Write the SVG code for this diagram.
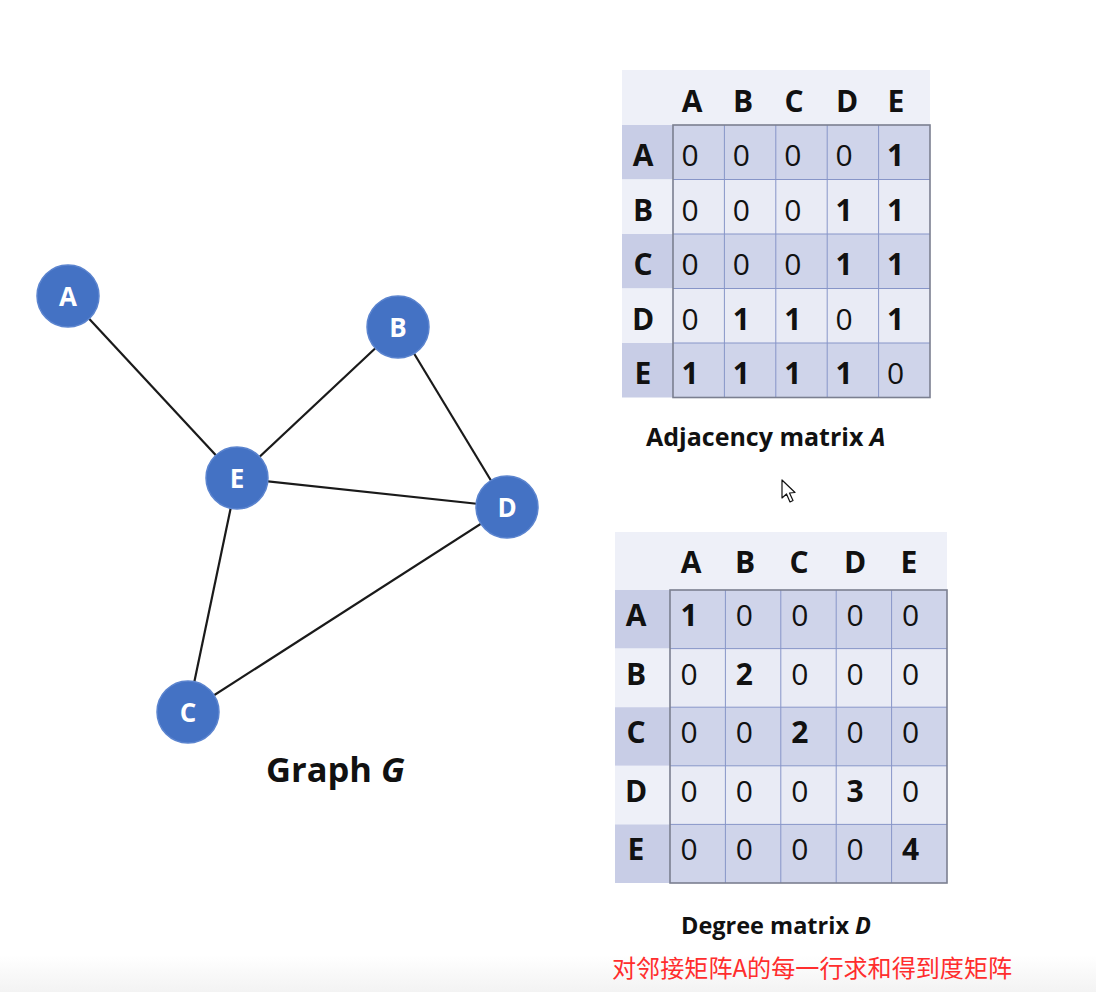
<svg xmlns="http://www.w3.org/2000/svg" width="1096" height="992" viewBox="0 0 1096 992">
<defs>
<style>
.lbl{font-family:"Open Sans","Liberation Sans",sans-serif;font-weight:bold;font-size:30px;fill:#111;text-anchor:middle}
.v0{font-family:"Open Sans","Liberation Sans",sans-serif;font-size:30px;fill:#111;text-anchor:middle}
.v1{font-family:"Open Sans","Liberation Sans",sans-serif;font-weight:bold;font-size:30px;fill:#111;text-anchor:middle}
.node circle{fill:#4472c4;stroke:#5b84cf;stroke-width:1.5}
.node text{font-family:"Open Sans","Liberation Sans",sans-serif;font-weight:bold;font-size:26px;fill:#fff;text-anchor:middle}
.edge{stroke:#1a1a1a;stroke-width:2.2;fill:none}
.cap{font-family:"Open Sans","Liberation Sans",sans-serif;font-weight:bold;fill:#111}
.dk{fill:#cfd4ea}.lt{fill:#e9ebf5}.ldk{fill:#c8cde6}.hd{fill:#eef0f8}
.grid{stroke:#8795c8;stroke-width:1;fill:none}
.frame{stroke:#7b7f90;stroke-width:1.6;fill:none}
</style>
<linearGradient id="bot" x1="0" y1="0" x2="0" y2="1">
<stop offset="0" stop-color="#ffffff"/><stop offset="1" stop-color="#f3f3f3"/>
</linearGradient>
</defs>
<rect width="1096" height="992" fill="#ffffff"/>
<rect x="0" y="955" width="1096" height="37" fill="url(#bot)"/>

<g id="connectors">
<line class="edge" x1="68" y1="296" x2="237" y2="478"/>
<line class="edge" x1="398" y1="327" x2="237" y2="478"/>
<line class="edge" x1="398" y1="327" x2="507" y2="507"/>
<line class="edge" x1="237" y1="478" x2="507" y2="507"/>
<line class="edge" x1="237" y1="478" x2="188" y2="712"/>
<line class="edge" x1="188" y1="712" x2="507" y2="507"/>
</g>

<g id="node-A" class="node"><circle cx="68" cy="296" r="31"/><text x="68" y="305.5">A</text></g>
<g id="node-B" class="node"><circle cx="398" cy="327" r="31"/><text x="398" y="336.5">B</text></g>
<g id="node-E" class="node"><circle cx="237" cy="478" r="31"/><text x="237" y="487.5">E</text></g>
<g id="node-D" class="node"><circle cx="507" cy="507" r="31"/><text x="507" y="516.5">D</text></g>
<g id="node-C" class="node"><circle cx="188" cy="712" r="31"/><text x="188" y="721.5">C</text></g>

<g id="graph-caption"><text class="cap" x="266" y="782" font-size="34.5">Graph <tspan font-style="italic">G</tspan></text></g>

<g id="adjacency-matrix">
<rect class="hd" x="622" y="70" width="308" height="55"/>
<rect class="ldk" x="622" y="125" width="51" height="54.5"/>
<rect class="hd" x="622" y="179.5" width="51" height="54.5"/>
<rect class="ldk" x="622" y="234" width="51" height="54.5"/>
<rect class="hd" x="622" y="288.5" width="51" height="54.5"/>
<rect class="ldk" x="622" y="343" width="51" height="54.5"/>
<rect class="dk" x="673" y="125" width="257" height="54.5"/>
<rect class="lt" x="673" y="179.5" width="257" height="54.5"/>
<rect class="dk" x="673" y="234" width="257" height="54.5"/>
<rect class="lt" x="673" y="288.5" width="257" height="54.5"/>
<rect class="dk" x="673" y="343" width="257" height="54.5"/>
<path class="grid" d="M724.4 125V397.5M775.8 125V397.5M827.2 125V397.5M878.6 125V397.5M673 179.5H930M673 234H930M673 288.5H930M673 343H930"/>
<rect class="frame" x="673" y="125" width="257" height="272.5"/>
<text class="lbl" x="692" y="112">A</text><text class="lbl" x="743" y="112">B</text><text class="lbl" x="794" y="112">C</text><text class="lbl" x="847" y="112">D</text><text class="lbl" x="896" y="112">E</text>
<text class="lbl" x="643" y="166">A</text><text class="lbl" x="643" y="220.5">B</text><text class="lbl" x="643" y="275">C</text><text class="lbl" x="643" y="329.5">D</text><text class="lbl" x="643" y="384">E</text>
<text class="v0" x="690" y="166">0</text><text class="v0" x="741.4" y="166">0</text><text class="v0" x="792.8" y="166">0</text><text class="v0" x="844.2" y="166">0</text><text class="v1" x="895.6" y="166">1</text>
<text class="v0" x="690" y="220.5">0</text><text class="v0" x="741.4" y="220.5">0</text><text class="v0" x="792.8" y="220.5">0</text><text class="v1" x="844.2" y="220.5">1</text><text class="v1" x="895.6" y="220.5">1</text>
<text class="v0" x="690" y="275">0</text><text class="v0" x="741.4" y="275">0</text><text class="v0" x="792.8" y="275">0</text><text class="v1" x="844.2" y="275">1</text><text class="v1" x="895.6" y="275">1</text>
<text class="v0" x="690" y="329.5">0</text><text class="v1" x="741.4" y="329.5">1</text><text class="v1" x="792.8" y="329.5">1</text><text class="v0" x="844.2" y="329.5">0</text><text class="v1" x="895.6" y="329.5">1</text>
<text class="v1" x="690" y="384">1</text><text class="v1" x="741.4" y="384">1</text><text class="v1" x="792.8" y="384">1</text><text class="v1" x="844.2" y="384">1</text><text class="v0" x="895.6" y="384">0</text>
<text class="cap" x="646" y="446" font-size="25">Adjacency matrix <tspan font-style="italic">A</tspan></text>
</g>

<g id="degree-matrix">
<rect class="hd" x="615" y="532" width="332" height="58"/>
<rect class="ldk" x="615" y="590" width="55" height="58.6"/>
<rect class="hd" x="615" y="648.6" width="55" height="58.6"/>
<rect class="ldk" x="615" y="707.2" width="55" height="58.6"/>
<rect class="hd" x="615" y="765.8" width="55" height="58.6"/>
<rect class="ldk" x="615" y="824.4" width="55" height="58.6"/>
<rect class="dk" x="670" y="590" width="277" height="58.6"/>
<rect class="lt" x="670" y="648.6" width="277" height="58.6"/>
<rect class="dk" x="670" y="707.2" width="277" height="58.6"/>
<rect class="lt" x="670" y="765.8" width="277" height="58.6"/>
<rect class="dk" x="670" y="824.4" width="277" height="58.6"/>
<path class="grid" d="M725.4 590V883M780.8 590V883M836.2 590V883M891.6 590V883M670 648.6H947M670 707.2H947M670 765.8H947M670 824.4H947"/>
<rect class="frame" x="670" y="590" width="277" height="293"/>
<text class="lbl" x="691" y="573">A</text><text class="lbl" x="745" y="573">B</text><text class="lbl" x="799" y="573">C</text><text class="lbl" x="855" y="573">D</text><text class="lbl" x="909" y="573">E</text>
<text class="lbl" x="636" y="626">A</text><text class="lbl" x="636" y="684.6">B</text><text class="lbl" x="636" y="743.2">C</text><text class="lbl" x="636" y="801.8">D</text><text class="lbl" x="636" y="860.4">E</text>
<text class="v1" x="689" y="626">1</text><text class="v0" x="744.4" y="626">0</text><text class="v0" x="799.8" y="626">0</text><text class="v0" x="855.2" y="626">0</text><text class="v0" x="910.6" y="626">0</text>
<text class="v0" x="689" y="684.6">0</text><text class="v1" x="744.4" y="684.6">2</text><text class="v0" x="799.8" y="684.6">0</text><text class="v0" x="855.2" y="684.6">0</text><text class="v0" x="910.6" y="684.6">0</text>
<text class="v0" x="689" y="743.2">0</text><text class="v0" x="744.4" y="743.2">0</text><text class="v1" x="799.8" y="743.2">2</text><text class="v0" x="855.2" y="743.2">0</text><text class="v0" x="910.6" y="743.2">0</text>
<text class="v0" x="689" y="801.8">0</text><text class="v0" x="744.4" y="801.8">0</text><text class="v0" x="799.8" y="801.8">0</text><text class="v1" x="855.2" y="801.8">3</text><text class="v0" x="910.6" y="801.8">0</text>
<text class="v0" x="689" y="860.4">0</text><text class="v0" x="744.4" y="860.4">0</text><text class="v0" x="799.8" y="860.4">0</text><text class="v0" x="855.2" y="860.4">0</text><text class="v1" x="910.6" y="860.4">4</text>
<text class="cap" x="681" y="934" font-size="23.5">Degree matrix <tspan font-style="italic">D</tspan></text>
</g>

<g id="note"><text x="612" y="977" font-family="'Noto Sans CJK SC','Noto Sans',sans-serif" font-size="24.1" fill="#ff2d2d">对邻接矩阵A的每一行求和得到度矩阵</text></g>

<g id="cursor"><path d="M782 480 L782 498 L786.5 494 L790 502 L793 500.5 L789.5 493 L795 492.5 Z" fill="#ffffff" stroke="#111" stroke-width="1.2" stroke-linejoin="round"/></g>
</svg>
